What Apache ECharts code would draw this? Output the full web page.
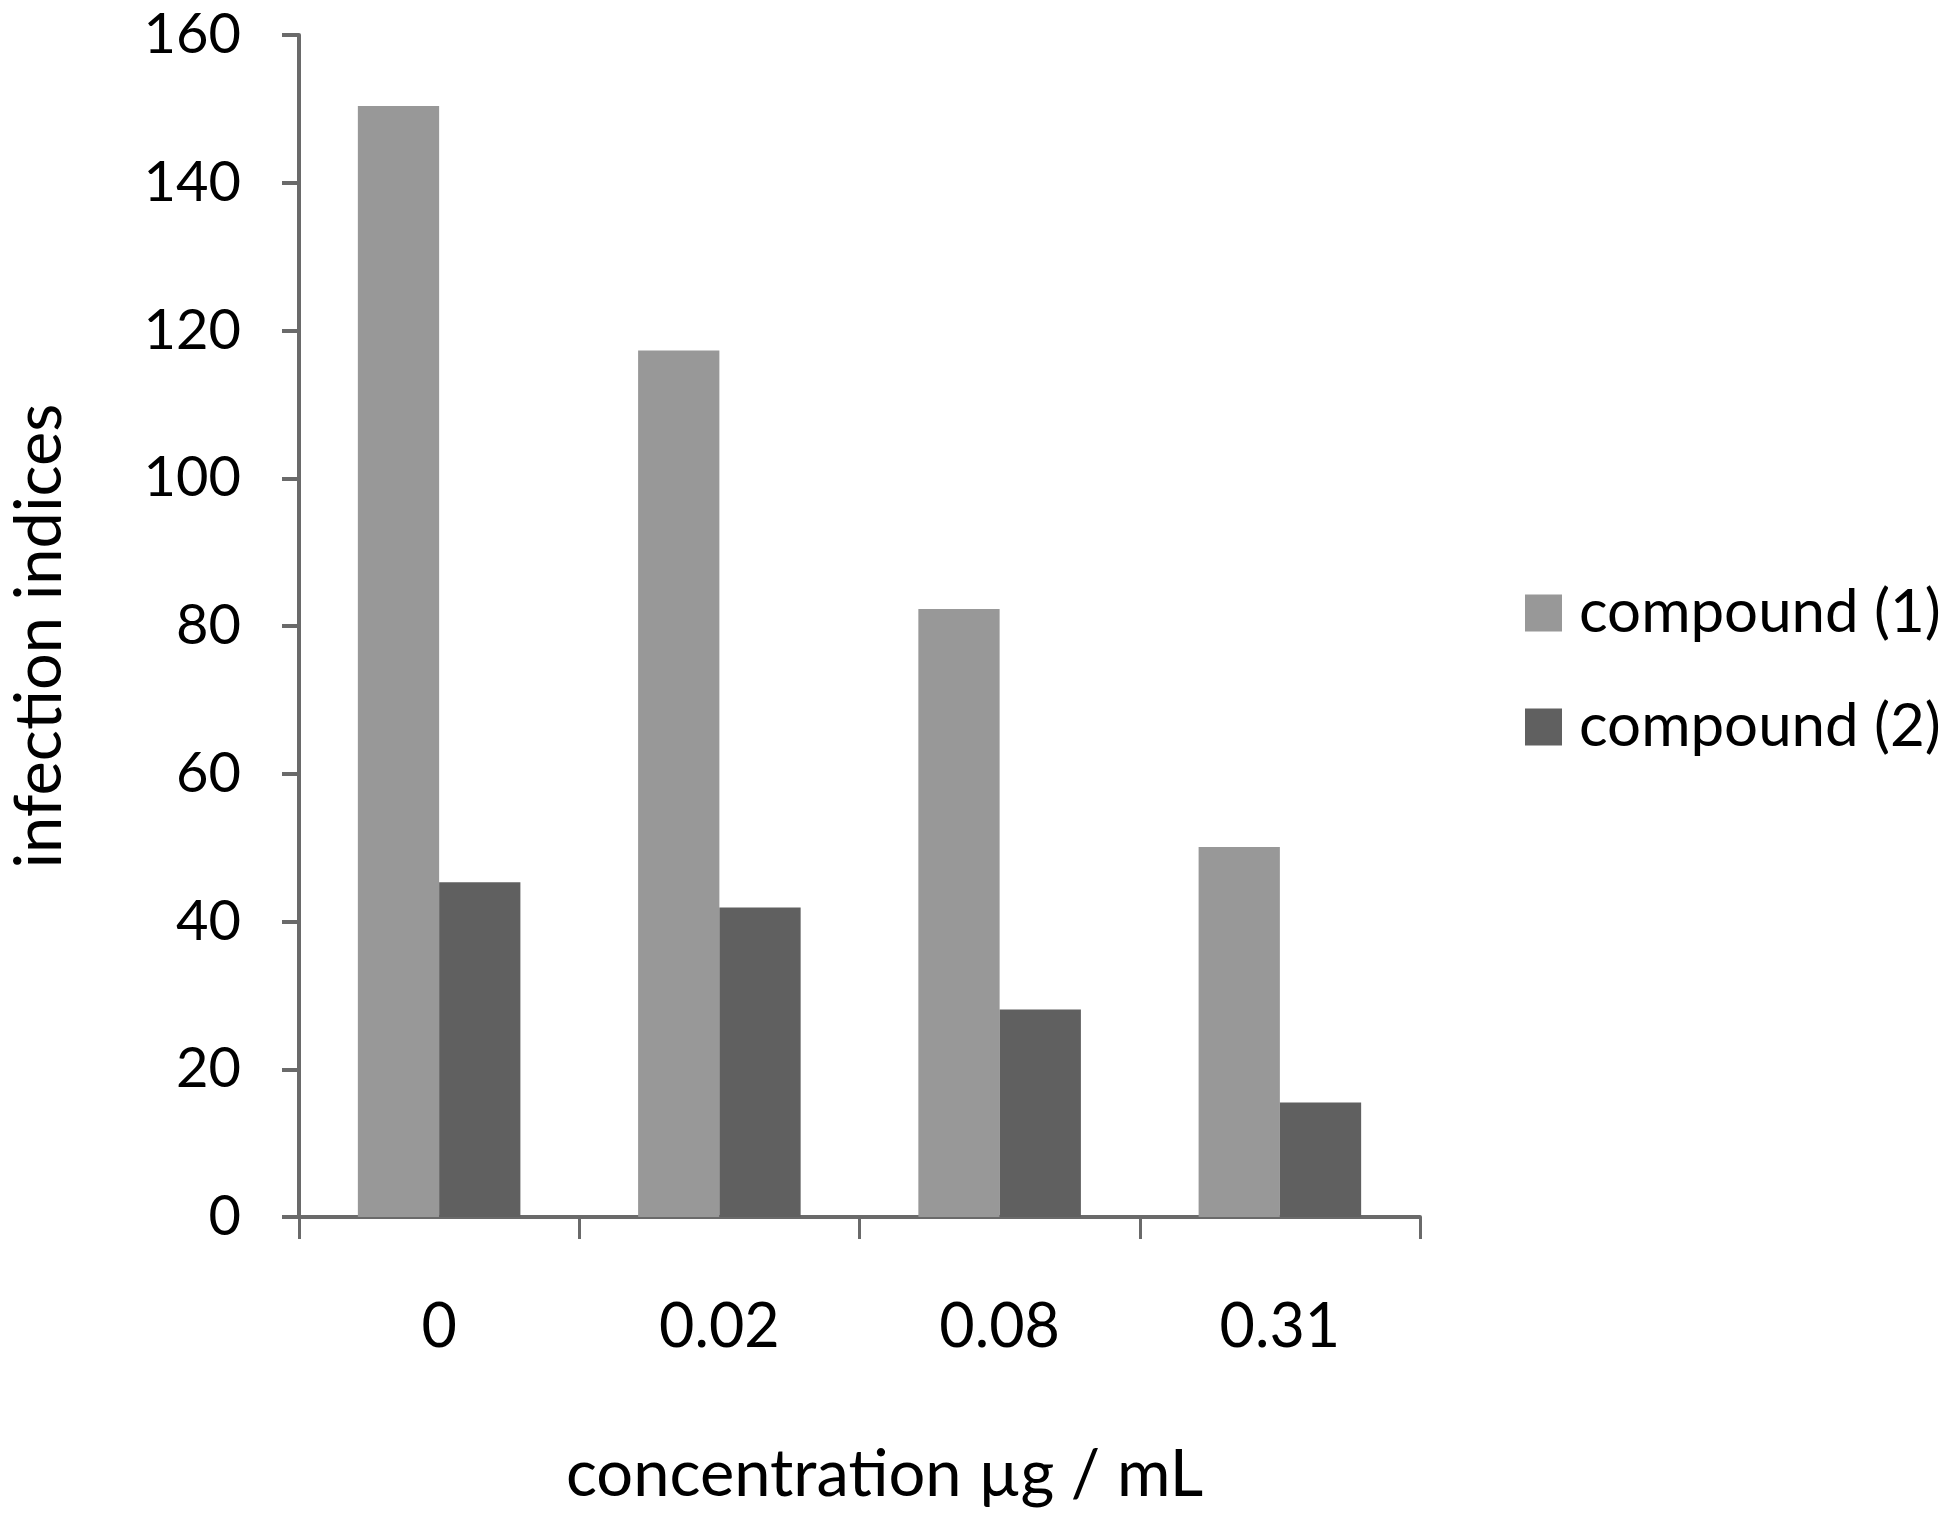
<!DOCTYPE html>
<html>
<head>
<meta charset="utf-8">
<script src="https://cdn.jsdelivr.net/npm/echarts@6/dist/echarts.min.js"></script>
<style>
  html, body { margin: 0; padding: 0; background: #fff; }
  #chart { width: 1950px; height: 1513px; }
</style>
</head>
<body>
<div id="chart"></div>
<script>
var categories = ['0', '0.02', '0.08', '0.31'];
var compound1 = [150.4, 117.3, 82.3, 50.1];
var compound2 = [45.3, 41.9, 28.1, 15.5];
var seriesNames = ['compound (1)', 'compound (2)'];

var font = 'Lato, "Open Sans", sans-serif';
var axisColor = '#6a6a6a';

var myChart = echarts.init(document.getElementById('chart'));

var option = {
  animation: false,
  textStyle: { fontFamily: font },
  legend: {
    orient: 'vertical',
    left: 1520,
    top: 578,
    itemWidth: 37,
    itemHeight: 37,
    itemGap: 54,
    icon: 'rect',
    data: seriesNames,
    textStyle: {
      color: '#000',
      fontSize: 60,
      fontFamily: font,
      padding: [0, 0, 0, 12]
    }
  },
  grid: {
    left: 298,
    top: 35,
    right: 530,
    bottom: 296
  },
  xAxis: {
    type: 'category',
    data: categories,
    name: 'concentration µg / mL',
    nameLocation: 'middle',
    nameGap: 226,
    nameTextStyle: { color: '#000', fontSize: 65, fontFamily: font, padding: [0, 0, 0, 50] },
    axisLine: { lineStyle: { color: axisColor, width: 4 } },
    axisTick: { show: true, length: 22, lineStyle: { color: axisColor, width: 3 } },
    axisLabel: { color: '#000', fontSize: 61, margin: 80, fontFamily: font }
  },
  yAxis: {
    type: 'value',
    min: 0,
    max: 160,
    interval: 20,
    name: 'infection indices',
    nameLocation: 'middle',
    nameGap: 226,
    nameTextStyle: { color: '#000', fontSize: 65, fontFamily: font, padding: [0, 20, 0, 0] },
    splitLine: { show: false },
    axisLine: { show: true, lineStyle: { color: axisColor, width: 4 } },
    axisTick: { show: true, length: 17, lineStyle: { color: axisColor, width: 4 } },
    axisLabel: { color: '#000', fontSize: 56, margin: 58, fontFamily: font }
  },
  series: [
    {
      name: seriesNames[0],
      type: 'bar',
      data: compound1,
      barGap: '0%',
      barCategoryGap: '42%',
      itemStyle: { color: '#989898' }
    },
    {
      name: seriesNames[1],
      type: 'bar',
      data: compound2,
      itemStyle: { color: '#606060' }
    }
  ]
};

myChart.setOption(option);
</script>
</body>
</html>
